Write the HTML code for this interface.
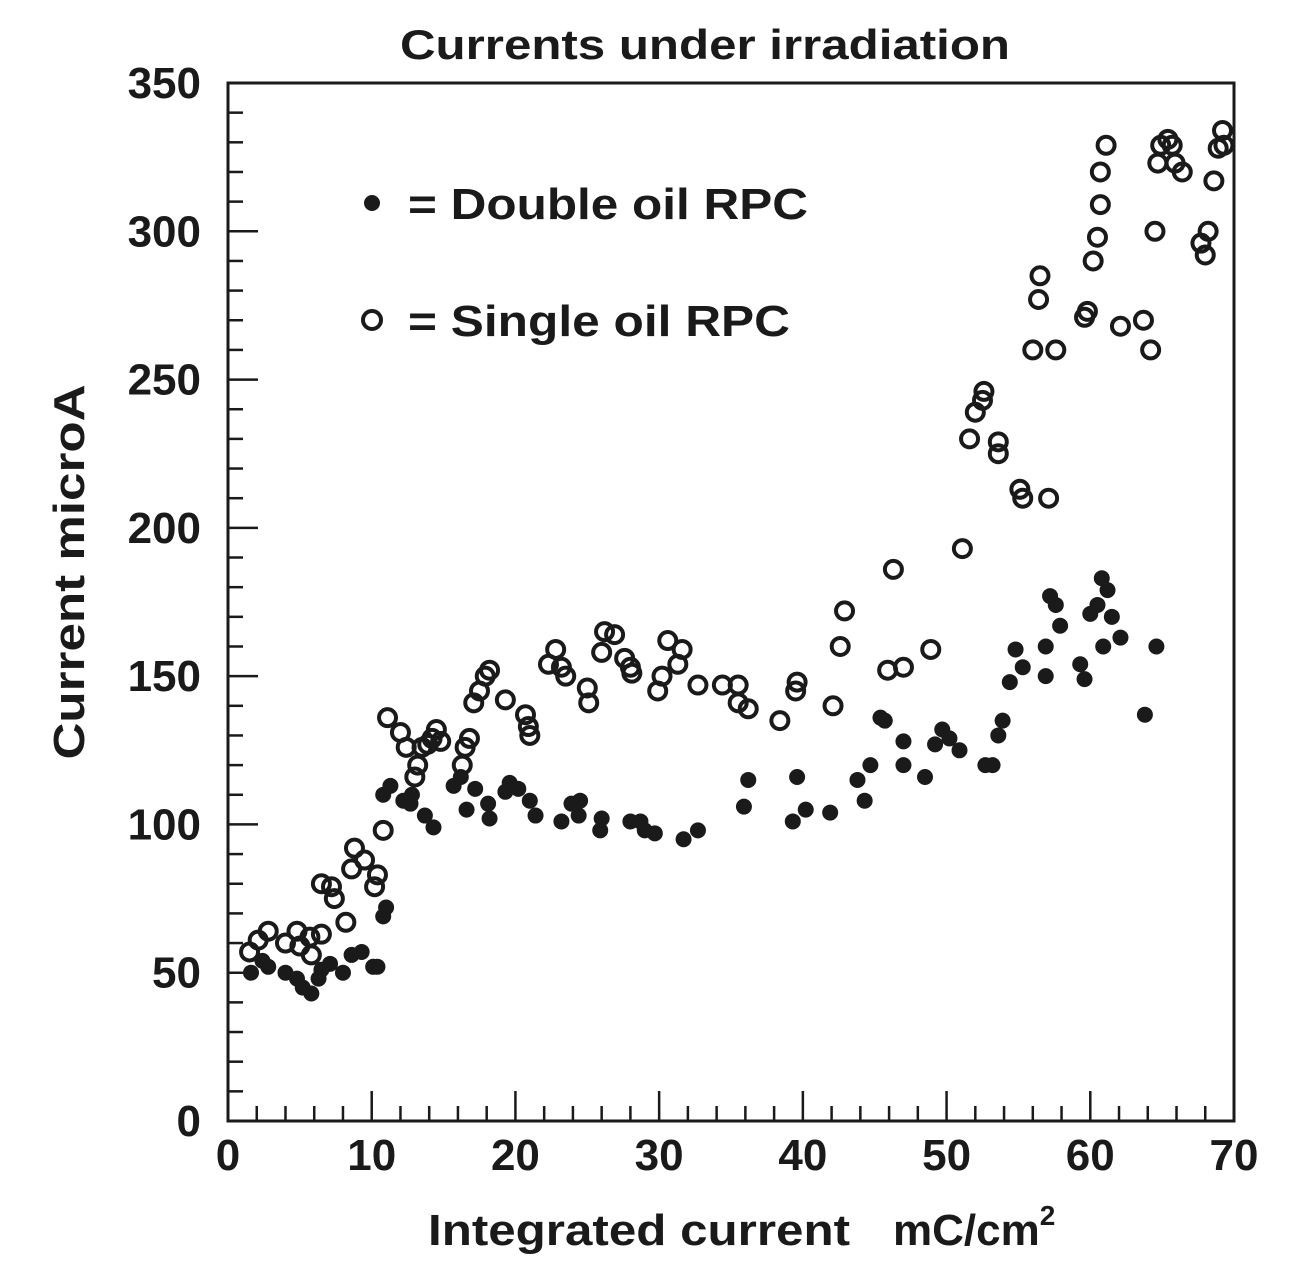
<!DOCTYPE html>
<html><head><meta charset="utf-8"><style>
html,body{margin:0;padding:0;background:#fff;}
svg text{font-family:"Liberation Sans",Arial,sans-serif;font-weight:bold;fill:#1a1a1a;}
</style></head><body>
<svg id="chart" width="1306" height="1278" xmlns="http://www.w3.org/2000/svg">
<text x="400" y="59" font-size="42" textLength="610" lengthAdjust="spacingAndGlyphs">Currents under irradiation</text>
<rect x="228" y="83" width="1006" height="1038" fill="none" stroke="#1a1a1a" stroke-width="3"/>
<g id="ticks"></g>
<g id="marks"></g>
<text x="428" y="1245" font-size="44" textLength="422" lengthAdjust="spacingAndGlyphs">Integrated current</text>
<text x="893" y="1245" font-size="44">mC/cm<tspan dy="-20" font-size="28">2</tspan></text>
<text transform="translate(84,572) rotate(-90)" font-size="44" text-anchor="middle" textLength="375" lengthAdjust="spacingAndGlyphs">Current  microA</text>
<g>
<circle cx="372" cy="203" r="8" fill="#1a1a1a"/>
<text x="408" y="219" font-size="44" textLength="400" lengthAdjust="spacingAndGlyphs">= Double oil RPC</text>
<circle cx="372" cy="320" r="9" fill="none" stroke="#1a1a1a" stroke-width="4"/>
<text x="408" y="336" font-size="44" textLength="382" lengthAdjust="spacingAndGlyphs">= Single oil RPC</text>
</g>
</svg>
<script>
const xTickLabels=["0","10","20","30","40","50","60","70"];
const yTickLabels=["0","50","100","150","200","250","300","350"];
const doubleX=[1.6,2.4,2.8,4,4.8,5.2,5.8,6.3,6.5,7.1,8,8.6,9.3,10.1,10.4,10.8,11,10.8,11.3,12.2,12.7,12.8,13.7,14.3,15.7,16.2,16.6,17.2,18.2,18.1,19.3,19.6,20.2,21,21.4,23.2,23.9,24.5,24.4,25.9,26,28,28.7,29,29.7,31.7,32.7,35.9,36.2,39.3,39.6,40.2,41.9,43.8,44.3,44.7,45.4,45.7,47,47,48.5,49.2,49.7,50.2,50.9,52.7,53.2,53.6,53.9,54.4,54.8,55.3,56.9,56.9,57.2,57.6,57.9,59.3,59.6,60,60.5,60.8,60.9,61.2,61.5,62.1,63.8,64.6];
const doubleY=[50,54,52,50,48,45,43,48,51,53,50,56,57,52,52,69,72,110,113,108,107,110,103,99,113,116,105,112,102,107,111,114,112,108,103,101,107,108,103,98,102,101,101,98,97,95,98,106,115,101,116,105,104,115,108,120,136,135,128,120,116,127,132,129,125,120,120,130,135,148,159,153,150,160,177,174,167,154,149,171,174,183,160,179,170,163,137,160];
const singleX=[1.5,2.1,2.8,4,4.8,5,5.7,5.8,6.5,6.5,7.2,7.4,8.2,8.6,8.8,9.5,10.2,10.4,10.8,11.1,12,12.4,13,13.2,13.5,13.9,14.2,14.5,14.8,16.3,16.5,16.8,17.1,17.5,17.9,18.2,19.3,20.7,20.9,21,22.3,22.8,23.2,23.5,25,25.1,26,26.2,26.9,27.6,28,28.1,29.9,30.2,30.6,31.3,31.6,32.7,34.4,35.5,35.5,36.2,38.4,39.5,39.6,42.1,42.6,42.9,45.9,46.3,47,48.9,51.1,51.6,52,52.5,52.6,53.6,53.6,55.1,55.3,56,56.4,56.5,57.1,57.6,59.6,59.8,60.2,60.5,60.7,60.7,61.1,62.1,63.7,64.2,64.5,64.7,64.9,65.4,65.7,65.9,66.4,67.7,68,68.2,68.6,68.9,69.2,69.3];
const singleY=[57,61,64,60,64,59,62,56,63,80,79,75,67,85,92,88,79,83,98,136,131,126,116,120,126,127,129,132,128,120,126,129,141,145,150,152,142,137,133,130,154,159,153,150,146,141,158,165,164,156,153,151,145,150,162,154,159,147,147,147,141,139,135,145,148,140,160,172,152,186,153,159,193,230,239,243,246,229,225,213,210,260,277,285,210,260,271,273,290,298,309,320,329,268,270,260,300,323,329,331,329,323,320,296,292,300,317,328,334,329];
const NS="http://www.w3.org/2000/svg";
const X0=228,X1=1234,Y0=1121,Y1=83;
const sx=v=>X0+(v/70)*(X1-X0);
const sy=v=>Y0-(v/350)*(Y0-Y1);
const ticks=document.getElementById('ticks');
function line(x1,y1,x2,y2){const l=document.createElementNS(NS,'line');l.setAttribute('x1',x1);l.setAttribute('y1',y1);l.setAttribute('x2',x2);l.setAttribute('y2',y2);l.setAttribute('stroke','#1a1a1a');l.setAttribute('stroke-width','2.5');


ticks.appendChild(l);}
for(let v=0;v<=70;v+=2){const x=sx(v);line(x,Y0,x,Y0-(v%10===0?30:15));}
for(let v=0;v<=350;v+=10){const y=sy(v);line(X0,y,X0+(v%50===0?30:15),y);}
xTickLabels.forEach((t,i)=>{const e=document.createElementNS(NS,'text');e.setAttribute('x',sx(+t));e.setAttribute('y',1170);e.setAttribute('font-size','44');e.setAttribute('text-anchor','middle');e.textContent=t;


ticks.appendChild(e);});
yTickLabels.forEach((t,i)=>{const e=document.createElementNS(NS,'text');e.setAttribute('x',201);e.setAttribute('y',sy(+t)+15);e.setAttribute('font-size','44');e.setAttribute('text-anchor','end');e.textContent=t;


ticks.appendChild(e);});
const marks=document.getElementById('marks');
doubleX.forEach((v,i)=>{const c=document.createElementNS(NS,'circle');c.setAttribute('cx',sx(v));c.setAttribute('cy',sy(doubleY[i]));c.setAttribute('r',8);c.setAttribute('fill','#1a1a1a');


marks.appendChild(c);});
singleX.forEach((v,i)=>{const c=document.createElementNS(NS,'circle');c.setAttribute('cx',sx(v));c.setAttribute('cy',sy(singleY[i]));c.setAttribute('r',8.5);c.setAttribute('fill','none');c.setAttribute('stroke','#1a1a1a');c.setAttribute('stroke-width','4');


marks.appendChild(c);});
</script>
</body></html>
